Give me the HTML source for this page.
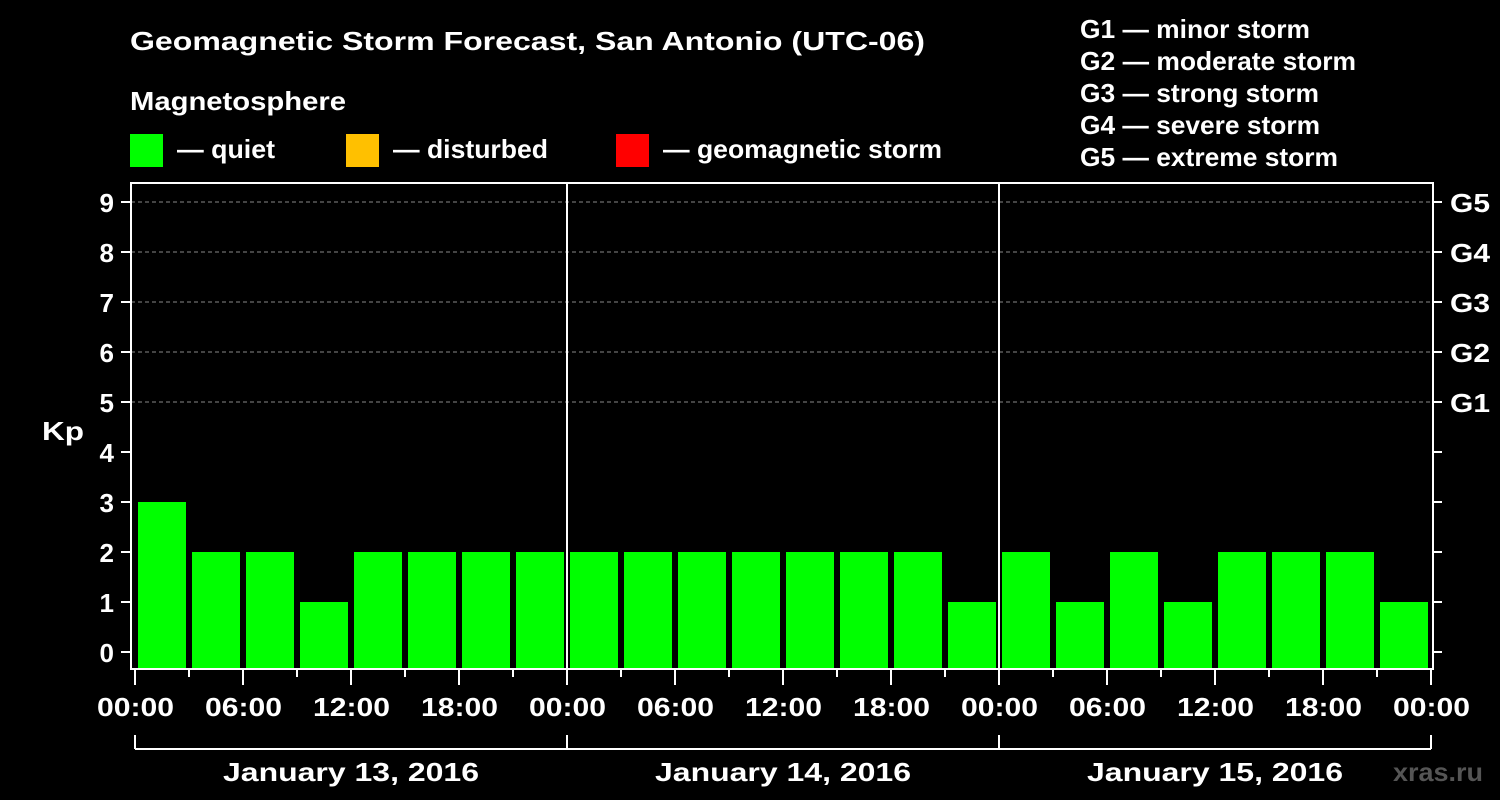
<!DOCTYPE html>
<html><head><meta charset="utf-8"><style>
html,body{margin:0;padding:0;background:#000;}
svg{display:block;font-family:"Liberation Sans",Arial,sans-serif;font-weight:bold;}
</style></head><body>
<svg id="c" width="1500" height="800" viewBox="0 0 1500 800">
<rect width="1500" height="800" fill="#000"/>
<text x="130" y="50" fill="#fff" font-size="26" textLength="795" lengthAdjust="spacingAndGlyphs">Geomagnetic Storm Forecast, San Antonio (UTC-06)</text>
<text x="130" y="110" fill="#fff" font-size="26" textLength="216" lengthAdjust="spacingAndGlyphs">Magnetosphere</text>
<g><rect x="130" y="134" width="33" height="33" fill="#00ff00"/><text x="177" y="158" fill="#fff" font-size="26" textLength="98" lengthAdjust="spacingAndGlyphs">— quiet</text></g>
<g><rect x="346" y="134" width="33" height="33" fill="#ffc000"/><text x="393" y="158" fill="#fff" font-size="26" textLength="155" lengthAdjust="spacingAndGlyphs">— disturbed</text></g>
<g><rect x="616" y="134" width="33" height="33" fill="#ff0000"/><text x="663" y="158" fill="#fff" font-size="26" textLength="279" lengthAdjust="spacingAndGlyphs">— geomagnetic storm</text></g>
<g fill="#fff" font-size="26">
<text x="1080" y="38" textLength="230" lengthAdjust="spacingAndGlyphs">G1 — minor storm</text>
<text x="1080" y="70" textLength="276" lengthAdjust="spacingAndGlyphs">G2 — moderate storm</text>
<text x="1080" y="102" textLength="239" lengthAdjust="spacingAndGlyphs">G3 — strong storm</text>
<text x="1080" y="134" textLength="240" lengthAdjust="spacingAndGlyphs">G4 — severe storm</text>
<text x="1080" y="166" textLength="258" lengthAdjust="spacingAndGlyphs">G5 — extreme storm</text>
</g>
<text x="42" y="440" fill="#fff" font-size="26" textLength="42" lengthAdjust="spacingAndGlyphs">Kp</text>
<g id="grid"></g><g id="bars"></g><g id="axes"></g>
<text x="1393" y="781" fill="#555" font-size="26" textLength="90" lengthAdjust="spacingAndGlyphs">xras.ru</text>
</svg>
<script>
const kpValues=[3,2,2,1,2,2,2,2, 2,2,2,2,2,2,2,1, 2,1,2,1,2,2,2,1];
const dayLabels=["January 13, 2016","January 14, 2016","January 15, 2016"];
const hourLabels=["00:00","06:00","12:00","18:00"];
const yTicks=[0,1,2,3,4,5,6,7,8,9];
const gLabels=["G1","G2","G3","G4","G5"];
const NS="http://www.w3.org/2000/svg";
const x0=135,slot=54,plotLeft=131,plotRight=1433,plotTop=183,plotBottom=669;
const X=i=>x0+i*slot;
const Y=v=>652-v*50;
function mk(tag,attrs,parent,text){const e=document.createElementNS(NS,tag);for(const k in attrs)e.setAttribute(k,attrs[k]);if(text!==undefined)e.textContent=text;parent.appendChild(e);return e;}
const grid=document.getElementById('grid'),bars=document.getElementById('bars'),axes=document.getElementById('axes');
for(let v=5;v<=9;v++){const l=mk('line',{x1:plotLeft,x2:plotRight,y1:Y(v),y2:Y(v),stroke:'#888','stroke-dasharray':'4,3','stroke-width':1},grid);

}
kpValues.forEach((v,i)=>{const c=v>=5?'#ff0000':(v>=4?'#ffc000':'#00ff00');
const r=mk('rect',{x:X(i)+3,y:Y(v),width:48,height:plotBottom-1-Y(v),fill:c},bars);

});
const frame=mk('rect',{x:plotLeft,y:plotTop,width:plotRight-plotLeft,height:plotBottom-plotTop,fill:'none',stroke:'#fff','stroke-width':2},axes);


for(let d=1;d<3;d++){const l=mk('line',{x1:X(d*8),x2:X(d*8),y1:plotTop,y2:plotBottom,stroke:'#fff','stroke-width':2},axes);

}
yTicks.forEach(v=>{mk('line',{x1:121,x2:plotLeft,y1:Y(v),y2:Y(v),stroke:'#fff','stroke-width':2},axes);
mk('line',{x1:plotRight,x2:1442,y1:Y(v),y2:Y(v),stroke:'#fff','stroke-width':2},axes);
const t=mk('text',{x:114,y:Y(v)+10,fill:'#fff','font-size':26,'text-anchor':'end'},axes,String(v));

});
gLabels.forEach((g,i)=>{const t=mk('text',{x:1450,y:Y(5+i)+10,fill:'#fff','font-size':26,textLength:40,lengthAdjust:'spacingAndGlyphs'},axes,g);

});
for(let i=0;i<=24;i++){const major=i%2===0;mk('line',{x1:X(i),x2:X(i),y1:plotBottom,y2:major?685:677,stroke:'#fff','stroke-width':2},axes);
if(major){const t=mk('text',{x:X(i)-38,y:716,fill:'#fff','font-size':26,textLength:77,lengthAdjust:'spacingAndGlyphs'},axes,hourLabels[(i/2)%4]);

}}
mk('line',{x1:X(0),x2:X(24),y1:749,y2:749,stroke:'#fff','stroke-width':2},axes);
for(let d=0;d<=3;d++)mk('line',{x1:X(d*8),x2:X(d*8),y1:735,y2:749,stroke:'#fff','stroke-width':2},axes);
dayLabels.forEach((s,d)=>{const t=mk('text',{x:X(d*8+4)-128,y:781,fill:'#fff','font-size':26,textLength:256,lengthAdjust:'spacingAndGlyphs'},axes,s);

});
</script>
</body></html>
